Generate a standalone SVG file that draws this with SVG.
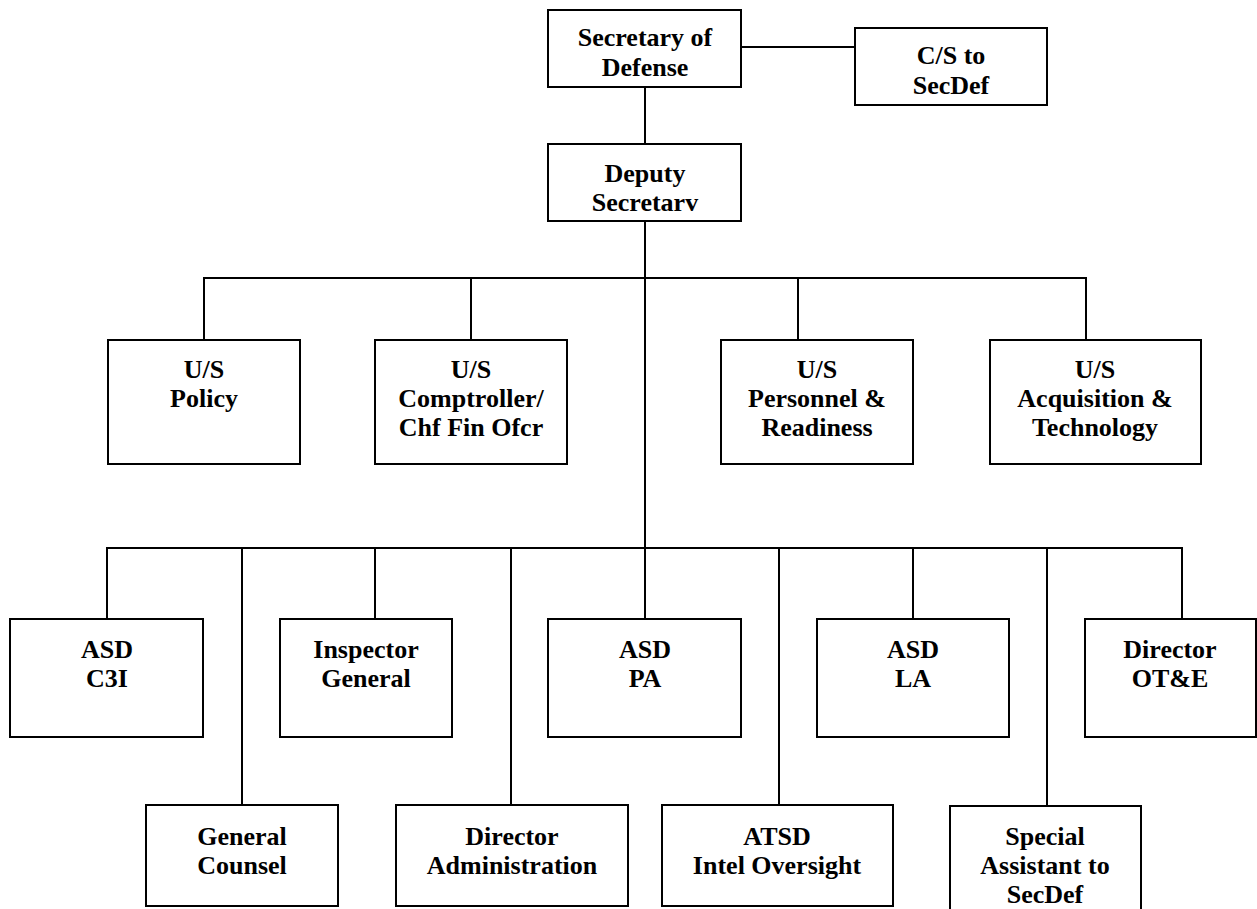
<svg xmlns="http://www.w3.org/2000/svg" width="1257" height="909" viewBox="0 0 1257 909">
<style>
.box{fill:#fff;stroke:#000;stroke-width:2}
.c{fill:none;stroke:#000;stroke-width:2}
text{font-family:"Liberation Serif","Times New Roman",serif;font-weight:bold;font-size:26px;text-anchor:middle;fill:#000}
</style>
<rect width="1257" height="909" fill="#fff"/>
<g id="connectors" class="c">
<line x1="741" y1="47" x2="855" y2="47"/>
<line x1="645" y1="87" x2="645" y2="144"/>
<line x1="645" y1="221" x2="645" y2="548"/>
<polyline points="204,340 204,278 1086,278 1086,340"/>
<line x1="471" y1="278" x2="471" y2="340"/>
<line x1="798" y1="278" x2="798" y2="340"/>
<polyline points="107,619 107,548 1182,548 1182,619"/>
<line x1="242" y1="548" x2="242" y2="805"/>
<line x1="375" y1="548" x2="375" y2="619"/>
<line x1="511" y1="548" x2="511" y2="805"/>
<line x1="645" y1="548" x2="645" y2="619"/>
<line x1="779" y1="548" x2="779" y2="805"/>
<line x1="913" y1="548" x2="913" y2="619"/>
<line x1="1047" y1="548" x2="1047" y2="806"/>
</g>
<g id="secdef"><rect class="box" x="548" y="10" width="193" height="77"/><text x="645" y="46">Secretary of</text><text x="645" y="76">Defense</text></g>
<g id="cs"><rect class="box" x="855" y="28" width="192" height="77"/><text x="951" y="64">C/S to</text><text x="951" y="94">SecDef</text></g>
<g id="deputy"><rect class="box" x="548" y="144" width="193" height="77"/><text x="645" y="182">Deputy</text><text x="645" y="211">Secretarv</text></g>
<g id="policy"><rect class="box" x="108" y="340" width="192" height="124"/><text x="204" y="378">U/S</text><text x="204" y="407">Policy</text></g>
<g id="comptroller"><rect class="box" x="375" y="340" width="192" height="124"/><text x="471" y="378">U/S</text><text x="471" y="407">Comptroller/</text><text x="471" y="436">Chf Fin Ofcr</text></g>
<g id="personnel"><rect class="box" x="721" y="340" width="192" height="124"/><text x="817" y="378">U/S</text><text x="817" y="407">Personnel &amp;</text><text x="817" y="436">Readiness</text></g>
<g id="acquisition"><rect class="box" x="990" y="340" width="211" height="124"/><text x="1095" y="378">U/S</text><text x="1095" y="407">Acquisition &amp;</text><text x="1095" y="436">Technology</text></g>
<g id="c3i"><rect class="box" x="10" y="619" width="193" height="118"/><text x="107" y="658">ASD</text><text x="107" y="687">C3I</text></g>
<g id="ig"><rect class="box" x="280" y="619" width="172" height="118"/><text x="366" y="658">Inspector</text><text x="366" y="687">General</text></g>
<g id="pa"><rect class="box" x="548" y="619" width="193" height="118"/><text x="645" y="658">ASD</text><text x="645" y="687">PA</text></g>
<g id="la"><rect class="box" x="817" y="619" width="192" height="118"/><text x="913" y="658">ASD</text><text x="913" y="687">LA</text></g>
<g id="ote"><rect class="box" x="1085" y="619" width="171" height="118"/><text x="1170" y="658">Director</text><text x="1170" y="687">OT&amp;E</text></g>
<g id="gc"><rect class="box" x="146" y="805" width="192" height="101"/><text x="242" y="845">General</text><text x="242" y="874">Counsel</text></g>
<g id="admin"><rect class="box" x="396" y="805" width="232" height="101"/><text x="512" y="845">Director</text><text x="512" y="874">Administration</text></g>
<g id="atsd"><rect class="box" x="662" y="805" width="231" height="101"/><text x="777" y="845">ATSD</text><text x="777" y="874">Intel Oversight</text></g>
<g id="special"><rect class="box" x="950" y="806" width="191" height="120"/><text x="1045" y="845">Special</text><text x="1045" y="874">Assistant to</text><text x="1045" y="903">SecDef</text></g>
</svg>
